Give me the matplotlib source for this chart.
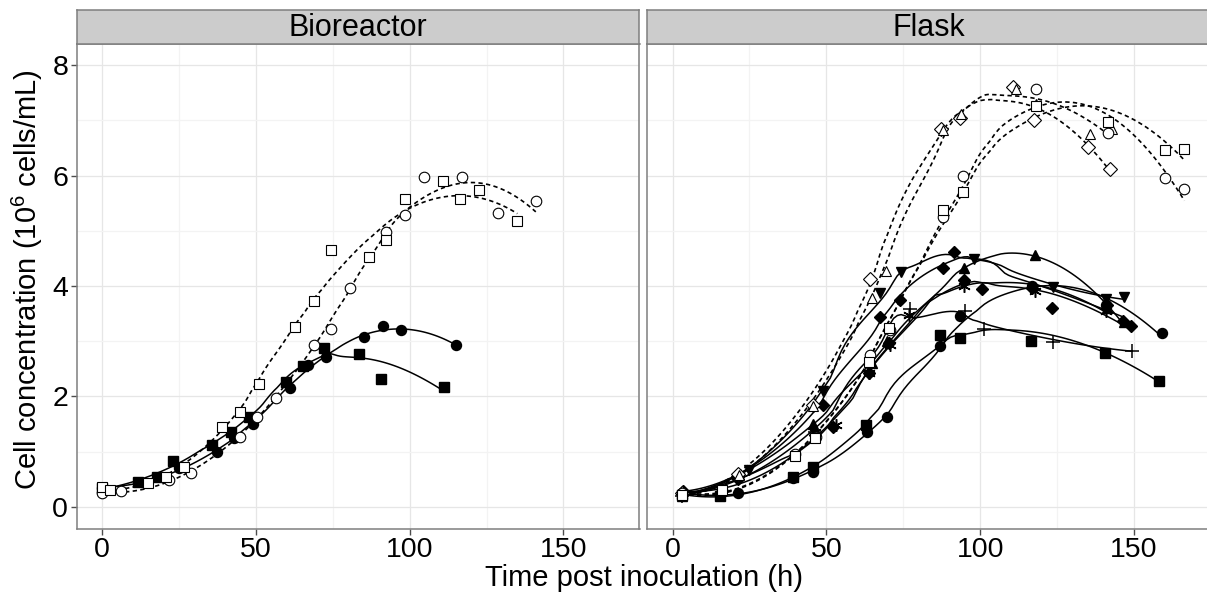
import numpy as np
import matplotlib
matplotlib.use("Agg")
import matplotlib.pyplot as plt

plt.rcParams['font.family'] = ['Liberation Sans', 'DejaVu Sans']
plt.rcParams['mathtext.fontset'] = 'custom'
plt.rcParams['mathtext.rm'] = 'Liberation Sans'
plt.rcParams['mathtext.it'] = 'Liberation Sans'

# ---------------- data ----------------
panels = ["Bioreactor", "Flask"]
x_ticks = [0, 50, 100, 150]
y_ticks = [0, 2, 4, 6, 8]
x_label = "Time post inoculation (h)"
y_label = "Cell concentration (10$^{6}$ cells/mL)"

# Bioreactor
bio_ocirc_t = [0, 6.0, 21.7, 28.8, 44.9, 50.3, 56.5, 69.0, 74.4, 80.5, 92.3, 98.4, 104.5, 117.0, 128.6, 141.0]
bio_ocirc_y = [0.26, 0.28, 0.48, 0.62, 1.27, 1.63, 1.98, 2.93, 3.23, 3.96, 4.98, 5.28, 5.97, 5.98, 5.33, 5.54]
bio_osq_t = [0, 2.6, 14.9, 20.9, 26.5, 38.9, 44.7, 51.0, 62.8, 69.0, 74.4, 86.8, 92.3, 98.4, 110.7, 116.5, 122.5, 135.0]
bio_osq_y = [0.36, 0.30, 0.43, 0.55, 0.73, 1.45, 1.71, 2.22, 3.26, 3.73, 4.65, 4.53, 4.83, 5.57, 5.90, 5.57, 5.73, 5.18]
bio_fcirc_t = [0, 25.0, 37.2, 43.0, 49.1, 61.0, 66.8, 72.9, 85.1, 91.3, 97.2, 115.0]
bio_fcirc_y = [0.35, 0.70, 1.00, 1.24, 1.50, 2.15, 2.57, 2.72, 3.07, 3.28, 3.20, 2.93]
bio_fsq_t = [0, 11.6, 17.8, 23.2, 35.7, 41.8, 47.6, 59.8, 65.3, 72.1, 83.6, 90.8, 111.0]
bio_fsq_y = [0.34, 0.45, 0.55, 0.84, 1.12, 1.36, 1.62, 2.26, 2.55, 2.88, 2.76, 2.32, 2.17]

# Flask - open markers (dashed fits)
fl_odiam_t = [3, 21.4, 45.8, 64.2, 87.4, 93.6, 110.7, 117.4, 135.1, 142.3]
fl_odiam_y = [0.25, 0.60, 1.85, 4.12, 6.85, 7.05, 7.61, 7.00, 6.51, 6.12]
fl_otri_t = [3, 21.5, 45.6, 64.8, 69.5, 88.0, 93.9, 111.5, 118.0, 135.6, 142.9]
fl_otri_y = [0.22, 0.58, 1.82, 3.79, 4.28, 6.82, 7.12, 7.56, 7.29, 6.75, 6.85]
fl_ocirc_t = [3, 16.0, 39.8, 46.6, 64.2, 70.6, 88.0, 94.4, 118.0, 141.7, 160.0, 166.4]
fl_ocirc_y = [0.25, 0.31, 0.95, 1.27, 2.75, 3.20, 5.25, 5.99, 7.56, 6.77, 5.95, 5.75]
fl_osq_t = [3, 16.0, 39.8, 46.3, 64.0, 70.2, 88.0, 94.4, 118.0, 141.7, 160.0, 166.4]
fl_osq_y = [0.22, 0.30, 0.93, 1.24, 2.63, 3.24, 5.38, 5.71, 7.25, 6.97, 6.46, 6.48]

# Flask - filled markers (solid fits)
fl_fcirc_t = [3, 21.4, 39.3, 45.5, 63.2, 69.7, 87.0, 93.5, 117.0, 141.0, 159.1]
fl_fcirc_y = [0.25, 0.26, 0.52, 0.64, 1.36, 1.62, 2.91, 3.46, 4.00, 3.65, 3.14]
fl_fsq_t = [3, 15.4, 39.3, 45.5, 62.8, 87.0, 93.3, 116.5, 140.6, 158.3]
fl_fsq_y = [0.22, 0.20, 0.55, 0.72, 1.48, 3.11, 3.05, 3.00, 2.78, 2.28]
fl_plus_t = [3, 21.4, 46.3, 77.2, 95.1, 101.1, 123.8, 149.3]
fl_plus_y = [0.20, 0.55, 1.35, 3.58, 3.54, 3.22, 2.99, 2.83]
fl_ftri_t = [3, 21.4, 45.8, 64.8, 69.7, 94.8, 117.9, 141.2, 146.6]
fl_ftri_y = [0.20, 0.60, 1.50, 2.60, 3.00, 4.32, 4.56, 3.60, 3.35]
fl_finv_t = [3, 24.7, 49.0, 67.5, 74.2, 98.0, 123.8, 141.0, 146.6]
fl_finv_y = [0.22, 0.67, 2.09, 3.87, 4.25, 4.48, 3.99, 3.76, 3.80]
fl_fdiamA_t = [3.5, 21.4, 49.0, 67.5, 74.0, 87.9, 91.5, 116.8, 141.2, 146.4]
fl_fdiamA_y = [0.28, 0.60, 1.85, 3.44, 3.75, 4.32, 4.62, 3.96, 3.66, 3.37]
fl_fdiamB_t = [3.5, 21.4, 46.3, 52.3, 63.7, 70.2, 94.6, 100.5, 123.5, 149.0]
fl_fdiamB_y = [0.25, 0.50, 1.30, 1.45, 2.42, 2.96, 4.11, 3.94, 3.61, 3.28]
fl_star_t = [3, 21.4, 46.3, 53.2, 63.7, 70.6, 77.0, 94.6, 117.9, 141.0]
fl_star_y = [0.22, 0.55, 1.35, 1.48, 2.42, 2.93, 3.47, 4.00, 3.90, 3.55]

bio_series = [
    (bio_fcirc_t, bio_fcirc_y, 'o', True, '-'),
    (bio_fsq_t, bio_fsq_y, 's', True, '-'),
    (bio_ocirc_t, bio_ocirc_y, 'o', False, '--'),
    (bio_osq_t, bio_osq_y, 's', False, '--'),
]
flask_series = [
    (fl_fcirc_t, fl_fcirc_y, 'o', True, '-'),
    (fl_fsq_t, fl_fsq_y, 's', True, '-'),
    (fl_plus_t, fl_plus_y, '+', True, '-'),
    (fl_ftri_t, fl_ftri_y, '^', True, '-'),
    (fl_finv_t, fl_finv_y, 'v', True, '-'),
    (fl_fdiamA_t, fl_fdiamA_y, 'D', True, '-'),
    (fl_fdiamB_t, fl_fdiamB_y, 'D', True, '-'),
    (fl_star_t, fl_star_y, (6, 2, 0), True, '-'),
    (fl_odiam_t, fl_odiam_y, 'D', False, '--'),
    (fl_otri_t, fl_otri_y, '^', False, '--'),
    (fl_ocirc_t, fl_ocirc_y, 'o', False, '--'),
    (fl_osq_t, fl_osq_y, 's', False, '--'),
]


def loess(x, y, xs, span=0.75, degree=2):
    x = np.asarray(x, float)
    y = np.asarray(y, float)
    n = len(x)
    q = int(np.floor(n * span))
    out = np.empty(len(xs))
    for i, x0 in enumerate(xs):
        d = np.abs(x - x0)
        dmax = np.sort(d)[q - 1] * 1.0001
        w = np.clip(1 - (d / dmax) ** 3, 0, None) ** 3
        c = np.polyfit(x, y, degree, w=np.sqrt(w))
        out[i] = np.polyval(c, x0)
    return out


W, H = 1207, 598
fig = plt.figure(figsize=(W / 100, H / 100), dpi=100)
fig.patch.set_facecolor('white')

xlim = (-8.32, 174.72)
ylim = (-0.40, 8.39)
panel_w = 563
lefts = [76.5, 647]
bottom_px, top_px = 529, 43.5
strip_top = 9.5

for pi, (name, series) in enumerate(zip(panels, [bio_series, flask_series])):
    ax = fig.add_axes([lefts[pi] / W, 1 - bottom_px / H, panel_w / W, (bottom_px - top_px) / H])
    ax.set_xlim(*xlim)
    ax.set_ylim(*ylim)
    ax.set_xticks(x_ticks)
    ax.set_xticks([25, 75, 125], minor=True)
    ax.set_yticks(y_ticks)
    ax.set_yticks([1, 3, 5, 7], minor=True)
    ax.grid(True, which='major', color='#e6e6e6', lw=0.9, zorder=0)
    ax.grid(True, which='minor', color='#f3f3f3', lw=0.9, zorder=0)
    ax.set_axisbelow(True)
    for s in ax.spines.values():
        s.set_color('#7f7f7f')
        s.set_linewidth(1.1)
    ax.tick_params(which='major', direction='out', length=4, width=1.0, color='#4d4d4d',
                   labelsize=20.5, pad=2)
    ax.tick_params(which='minor', length=0)
    if pi == 1:
        ax.tick_params(axis='y', labelleft=False)
        ax.tick_params(axis='y', which='major', length=0)
    for t, yv, mk, filled, ls in series:
        xs = np.linspace(min(t), max(t), 120)
        ys = loess(t, yv, xs)
        if ls == '--':
            ax.plot(xs, ys, color='black', lw=1.2, dashes=(2.6, 2.0), zorder=3)
        else:
            ax.plot(xs, ys, color='black', lw=1.1, zorder=3)
        if mk == '+':
            ax.plot(t, yv, linestyle='none', marker='+', ms=10, mew=1.1, color='black', zorder=4)
        elif isinstance(mk, tuple):
            ax.plot(t, yv, linestyle='none', marker=mk, ms=9, mew=1.1, color='black', zorder=4)
        elif filled:
            ms = 6 if mk == 'D' else (6.8 if mk == 's' else 7.2)
            ax.plot(t, yv, linestyle='none', marker=mk, ms=ms, mfc='black', mec='black', zorder=4)
        else:
            ms = 7 if mk == 'D' else (7.0 if mk == 's' else 7.6)
            ax.plot(t, yv, linestyle='none', marker=mk, ms=ms, mfc='white', mec='black',
                    mew=0.8, zorder=5)
    # strip
    sax = fig.add_axes([lefts[pi] / W, 1 - top_px / H, panel_w / W, (top_px - strip_top) / H])
    sax.set_facecolor('#cccccc')
    sax.set_xticks([])
    sax.set_yticks([])
    for s in sax.spines.values():
        s.set_color('#7f7f7f')
        s.set_linewidth(1.1)
    sax.text(0.5, 0.45, name, ha='center', va='center', fontsize=22, transform=sax.transAxes)

fig.text(644 / W, 1 - 578 / H, x_label, ha='center', va='center', fontsize=21)
fig.text(27 / W, 1 - 280 / H, y_label, ha='center', va='center', rotation=90, fontsize=21)

fig.savefig('out.png', dpi=100, facecolor='white')
